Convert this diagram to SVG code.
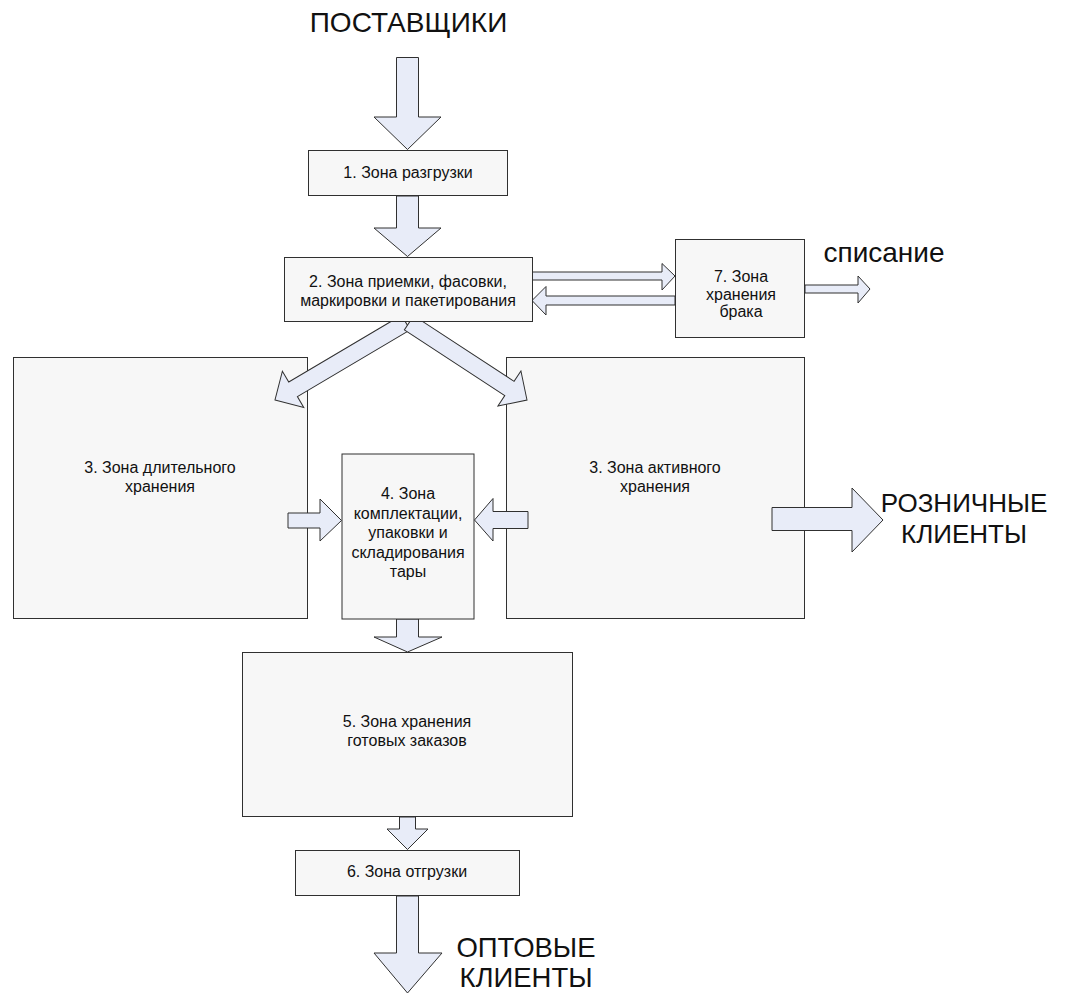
<svg xmlns="http://www.w3.org/2000/svg" width="1065" height="994" viewBox="0 0 1065 994">
<style>
.box{fill:#f7f7f7;stroke:#303030;stroke-width:1}
.arr{fill:#e8ecf8;stroke:#303030;stroke-width:1;stroke-linejoin:miter}
.t{font-family:"Liberation Sans",Arial,sans-serif;font-size:16px;fill:#111;text-anchor:middle}
.big{font-family:"Liberation Sans",Arial,sans-serif;font-size:26px;fill:#111;text-anchor:middle}
</style>
<rect width="1065" height="994" fill="#ffffff"/>
<text class="big" x="408.5" y="32" style="font-size:28px">ПОСТАВЩИКИ</text>
<text class="big" x="884" y="262" style="font-size:28px">списание</text>
<text class="big" x="964" y="512">РОЗНИЧНЫЕ</text>
<text class="big" x="964" y="543">КЛИЕНТЫ</text>
<text class="big" x="526" y="957" style="font-size:27.5px">ОПТОВЫЕ</text>
<text class="big" x="526" y="987" style="font-size:27.5px">КЛИЕНТЫ</text>

<g id="node3l"><rect class="box" x="13.5" y="357.5" width="294" height="261"/>
<text class="t" x="160" y="473">3. Зона длительного</text><text class="t" x="160" y="492">хранения</text></g>
<g id="node3r"><rect class="box" x="506.5" y="357.5" width="298" height="261"/>
<text class="t" x="655" y="473">3. Зона активного</text><text class="t" x="655" y="492">хранения</text></g>

<g id="connectors">
<polygon class="arr" points="396.5,57.5 418.5,57.5 418.5,117 441,117 407.5,149.5 374,117 396.5,117"/>
<polygon class="arr" points="396.5,196 418.5,196 418.5,228 441,228 407.5,256.5 374,228 396.5,228"/>
<polygon class="arr" points="532,272 662,272 662,263.5 675,276 662,290 662,280 532,280"/>
<polygon class="arr" points="675,296 546,296 546,286.5 532,300.5 546,315 546,305 675,305"/>
<polygon class="arr" points="805,285 858,285 858,276 870,289 858,303 858,293 805,293"/>
<polygon class="arr" transform="translate(275,400) rotate(149.4)" points="0,0 -21,-21 -21,-8.5 -152,-8.5 -152,8.5 -21,8.5 -21,21"/>
<polygon class="arr" transform="translate(527,400) rotate(33.2)" points="0,0 -21,-21 -21,-8.5 -141,-8.5 -141,8.5 -21,8.5 -21,21"/>
<polygon class="arr" points="288,513 320,513 320,499 341.5,520.5 320,541 320,528 288,528"/>
<polygon class="arr" points="528,511.5 493,511.5 493,498.5 474.5,520 493,541 493,528.5 528,528.5"/>
<polygon class="arr" points="772,507.5 852,507.5 852,488 883,520 852,552 852,530.5 772,530.5"/>
<polygon class="arr" points="396.5,619 418.5,619 418.5,637 442,637 407.5,652 374,637 396.5,637"/>
<polygon class="arr" points="399.5,817 415.5,817 415.5,829 428,829 407.5,849.5 387,829 399.5,829"/>
<polygon class="arr" points="396.5,896 418.5,896 418.5,953 442,953 407.5,993 374,953 396.5,953"/>
</g>

<g id="node1"><rect class="box" x="308.5" y="150.5" width="199" height="45"/>
<text class="t" x="408" y="178">1. Зона разгрузки</text></g>
<g id="node2"><rect class="box" x="284.5" y="257.5" width="248" height="64"/>
<text class="t" x="408" y="287">2. Зона приемки, фасовки,</text><text class="t" x="408" y="306">маркировки и пакетирования</text></g>
<g id="node7"><rect class="box" x="675.5" y="239.5" width="129" height="98"/>
<text class="t" x="741" y="282">7. Зона</text><text class="t" x="741" y="300">хранения</text><text class="t" x="741" y="317">брака</text></g>
<g id="node4"><rect class="box" x="342" y="454" width="132" height="165"/>
<text class="t" x="408" y="499">4. Зона</text><text class="t" x="408" y="519">комплектации,</text><text class="t" x="408" y="538">упаковки и</text><text class="t" x="408" y="558">складирования</text><text class="t" x="408" y="577">тары</text></g>
<g id="node5"><rect class="box" x="242.5" y="652.5" width="330" height="164"/>
<text class="t" x="407" y="727">5. Зона хранения</text><text class="t" x="407" y="746">готовых заказов</text></g>
<g id="node6"><rect class="box" x="295.5" y="850.5" width="224" height="45"/>
<text class="t" x="407" y="877">6. Зона отгрузки</text></g>
</svg>
